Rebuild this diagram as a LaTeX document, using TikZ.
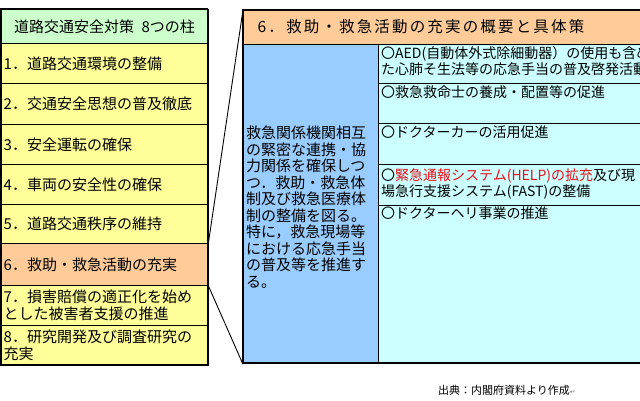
\documentclass[tikz,border=0pt]{standalone}
\usepackage{fontspec}
\setmainfont{Noto Sans CJK JP}
\newfontfamily\djv{DejaVu Sans}
\definecolor{lgreen}{HTML}{CCFFCC}
\definecolor{lyellow}{HTML}{FFFF99}
\definecolor{peach}{HTML}{FFCC99}
\definecolor{lblue}{HTML}{99CCFF}
\definecolor{lcyan}{HTML}{CCFFFF}
\definecolor{redtxt}{HTML}{E8101A}
\begin{document}
\begin{tikzpicture}[x=1pt,y=-1pt,
  cell/.style={draw=black, line width=0.9pt, anchor=north west, inner sep=0pt},
  ltxt/.style={anchor=west, inner sep=0pt, align=left, font=\fontsize{15}{16.5}\selectfont},
  rtxt/.style={anchor=north west, inner sep=0pt, align=left, font=\fontsize{14}{16.5}\selectfont},
  link/.style={draw=black, line width=0.9pt}]
\useasboundingbox (0,0) rectangle (640,400);
\clip (0,0) rectangle (640,400);
% left table
\node[cell, fill=lgreen, minimum width=207pt, minimum height=34pt] (h) at (0.5,9) {};
\node[cell, fill=lyellow, minimum width=207pt, minimum height=40pt] (r1) at (0.5,43) {};
\node[cell, fill=lyellow, minimum width=207pt, minimum height=41pt] (r2) at (0.5,83) {};
\node[cell, fill=lyellow, minimum width=207pt, minimum height=40pt] (r3) at (0.5,124) {};
\node[cell, fill=lyellow, minimum width=207pt, minimum height=40pt] (r4) at (0.5,164) {};
\node[cell, fill=lyellow, minimum width=207pt, minimum height=39pt] (r5) at (0.5,204) {};
\node[cell, fill=peach, minimum width=207pt, minimum height=42pt] (r6) at (0.5,243) {};
\node[cell, fill=lyellow, minimum width=207pt, minimum height=40pt] (r7) at (0.5,285) {};
\node[cell, fill=lyellow, minimum width=207pt, minimum height=40pt] (r8) at (0.5,325) {};
\draw[line width=1.3pt] (0.5,9) rectangle (207.5,365);
\node[inner sep=0pt, font=\fontsize{15}{16.5}\selectfont] (ht) at (h.center) {道路交通安全対策\hspace{0.5em}8つの柱};
\node[ltxt] (t1) at ([xshift=3pt]r1.west) {1．道路交通環境の整備};
\node[ltxt] (t2) at ([xshift=3pt]r2.west) {2．交通安全思想の普及徹底};
\node[ltxt] (t3) at ([xshift=3pt]r3.west) {3．安全運転の確保};
\node[ltxt] (t4) at ([xshift=3pt]r4.west) {4．車両の安全性の確保};
\node[ltxt] (t5) at ([xshift=3pt]r5.west) {5．道路交通秩序の維持};
\node[ltxt] (t6) at ([xshift=3pt]r6.west) {6．救助・救急活動の充実};
\node[ltxt] (t7) at ([xshift=3pt]r7.west) {7．損害賠償の適正化を始め\\とした被害者支援の推進};
\node[ltxt] (t8) at ([xshift=3pt]r8.west) {8．研究開発及び調査研究の\\充実};
% right panel
\node[cell, minimum width=420pt, minimum height=353pt, line width=1.3pt] (panel) at (243,10) {};
\node[cell, fill=peach, minimum width=420pt, minimum height=34pt] (ph) at (243,10) {};
\node[cell, fill=lblue, minimum width=135pt, minimum height=319pt] (pb) at (243,44) {};
\node[cell, fill=lcyan, minimum width=285pt, minimum height=39pt] (ra) at (378,44) {};
\node[cell, fill=lcyan, minimum width=285pt, minimum height=40pt] (rb) at (378,83) {};
\node[cell, fill=lcyan, minimum width=285pt, minimum height=41pt] (rc) at (378,123) {};
\node[cell, fill=lcyan, minimum width=285pt, minimum height=41pt] (rd) at (378,164) {};
\node[cell, fill=lcyan, minimum width=285pt, minimum height=158pt] (re) at (378,205) {};
\draw[line width=1.3pt] (243,10) rectangle (663,363);
\node[inner sep=0pt, font=\fontsize{15.5}{17}\selectfont\addfontfeatures{LetterSpace=14}] (pht) at (421,27) {6．救助・救急活動の充実の概要と具体策};
\node[ltxt] (pbt) at ([xshift=3pt,yshift=-3pt]pb.west) {救急関係機関相互\\の緊密な連携・協\\力関係を確保しつ\\つ．救助・救急体\\制及び救急医療体\\制の整備を図る。\\特に，救急現場等\\における応急手当\\の普及等を推進す\\る。};
\node[rtxt] (rat) at ([xshift=3pt,yshift=-2pt]ra.north west) {〇AED(自動体外式除細動器）の使用も含め\\た心肺そ生法等の応急手当の普及啓発活動};
\node[rtxt] (rbt) at ([xshift=3pt,yshift=-2pt]rb.north west) {〇救急救命士の養成・配置等の促進};
\node[rtxt] (rct) at ([xshift=3pt,yshift=-3pt]rc.north west) {〇ドクターカーの活用促進};
\node[rtxt] (rdt) at ([xshift=3pt,yshift=-4pt]rd.north west) {〇\textcolor{redtxt}{緊急通報システム(HELP)の拡充}及び現\\場急行支援システム(FAST)の整備};
\node[rtxt] (ret) at ([xshift=3pt,yshift=-2pt]re.north west) {〇ドクターヘリ事業の推進};
% links
\draw[link] (r6.north east) -- (panel.north west);
\draw[link] (r6.south east) -- (panel.south west);
% footer
\node[anchor=west, inner sep=0pt, font=\fontsize{11}{12}\selectfont] (src) at (438,390) {出典：内閣府資料より作成{\djv\fontsize{7}{8}\selectfont\color{gray}↵}};
\end{tikzpicture}
\end{document}
